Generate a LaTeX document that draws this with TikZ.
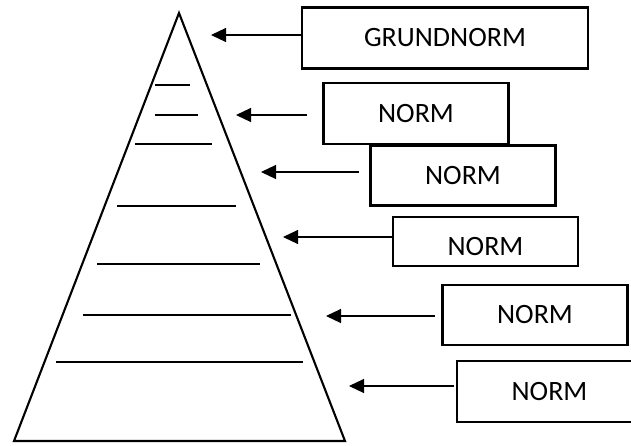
\documentclass[tikz,border=0pt]{standalone}
\usepackage{fontspec}
\setmainfont{Carlito}
\usetikzlibrary{arrows.meta}
\begin{document}
\begin{tikzpicture}[x=1pt,y=-1pt,
  pyr/.style={line width=2.1pt,line join=miter},
  tier/.style={line width=1.2pt},
  normbox/.style={draw,line width=2.3pt,minimum width=185pt,minimum height=60pt,inner sep=0pt,font=\fontsize{28}{30}\selectfont},
  normtext/.style={inner sep=0pt,font=\fontsize{28}{30}\selectfont},
  arr/.style={line width=1.1pt,-{Triangle[length=15pt,width=14pt]}}]
\useasboundingbox (0,0) rectangle (631,445);
\clip (0,0) rectangle (631,445);
% pyramid
\coordinate (apex) at (179,13);
\coordinate (bl) at (14,441);
\coordinate (br) at (345,441);
\draw[pyr] (bl) -- (apex) -- (br) -- cycle;
% tier lines
\coordinate (l1a) at (155,85);  \coordinate (l1b) at (190,85);
\coordinate (l2a) at (155,115); \coordinate (l2b) at (198,115);
\coordinate (l3a) at (135,144); \coordinate (l3b) at (212,144);
\coordinate (l4a) at (117,206); \coordinate (l4b) at (236,206);
\coordinate (l5a) at (97,264);  \coordinate (l5b) at (260,264);
\coordinate (l6a) at (83,315);  \coordinate (l6b) at (291,315);
\coordinate (l7a) at (56,362);  \coordinate (l7b) at (303,362);
\foreach \i in {1,...,7}{\draw[tier] (l\i a) -- (l\i b);}
% boxes
\node[normbox,minimum width=286pt,minimum height=61pt] (b1) at (445,38) {GRUNDNORM};
\node[normbox,minimum height=61pt] (b2) at (416,113.5) {NORM};
\node[normbox,minimum height=60pt] (b3) at (463,175.5) {NORM};
\node[normbox,minimum height=49pt] (b4) at (485.5,241.5) {};
\node[normtext] (t4) at (485.5,247) {NORM};
\node[normbox,minimum height=60pt] (b5) at (535,315) {NORM};
\node[normbox,minimum height=61pt] (b6) at (549.5,391.5) {NORM};
% arrows
\coordinate (s1) at (302,35);  \coordinate (e1) at (211,35);
\coordinate (s2) at (307,115); \coordinate (e2) at (236,115);
\coordinate (s3) at (359,172); \coordinate (e3) at (261,172);
\coordinate (s4) at (393,237); \coordinate (e4) at (283,237);
\coordinate (s5) at (435,316); \coordinate (e5) at (326,316);
\coordinate (s6) at (454,386); \coordinate (e6) at (349,386);
\foreach \i in {1,...,6}{\draw[arr] (s\i) -- (e\i);}
\end{tikzpicture}
\end{document}
